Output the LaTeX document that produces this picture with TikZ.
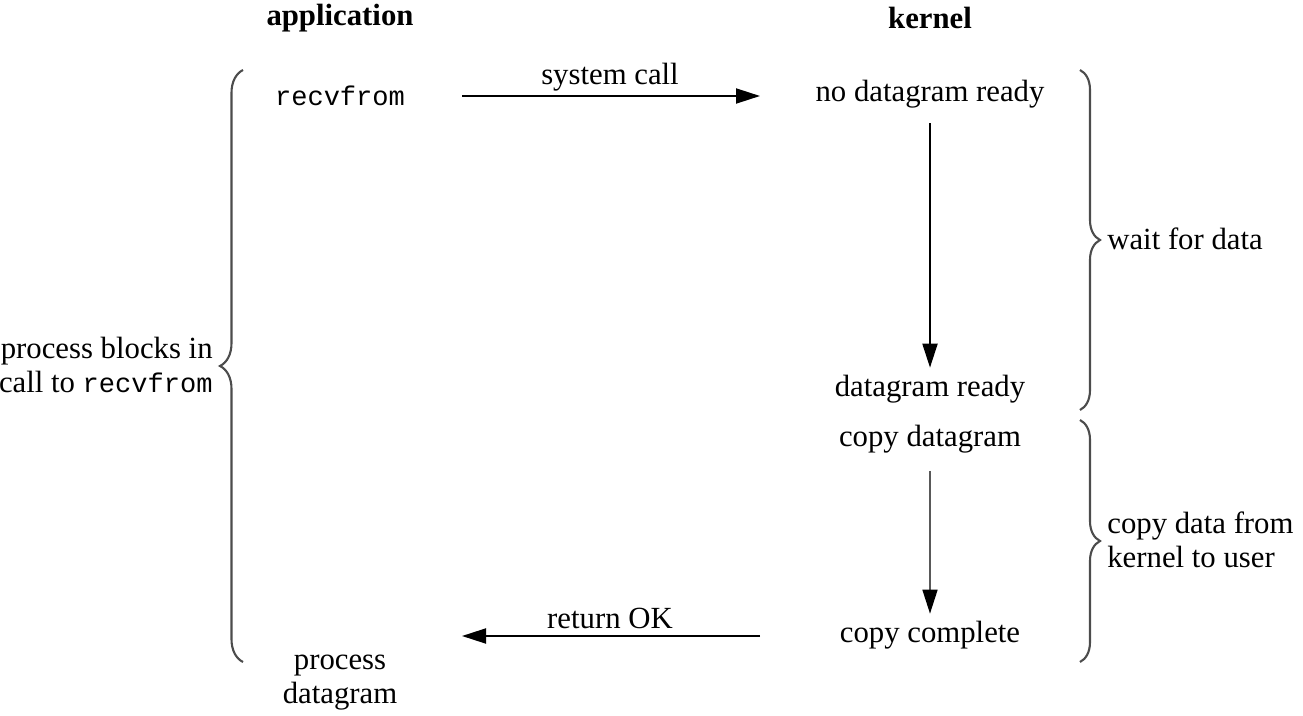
\documentclass[tikz,border=0pt]{standalone}
\usepackage{fontspec}
\setmainfont{Liberation Serif}
\setmonofont{Liberation Mono}
\usetikzlibrary{arrows.meta,decorations.pathreplacing}
\newcommand{\mymono}[1]{{\fontsize{15.4}{19.4}\selectfont\ttfamily #1}}
\begin{document}
\begin{tikzpicture}[
  txt/.style={inner sep=0pt,font=\fontsize{17.5}{19.4}\selectfont},
  hd/.style={txt,font=\fontsize{17.5}{19.4}\selectfont\bfseries},
  arr/.style={line width=1.1pt,-{Triangle[length=0.48cm,width=0.3cm]}},
  arrg/.style={line width=0.9pt,draw=black!65,-{Triangle[length=0.48cm,width=0.3cm,color=black]}},
  brc/.style={draw=black!70,line width=1.2pt,decorate,decoration={brace,amplitude=#1}}
]
\useasboundingbox (0,0) rectangle (26.06,-14.32);
\node[hd] (app) at (6.8,-0.36) {application};
\node[hd] (ker) at (18.6,-0.36) {kernel};
\node[txt] (recv) at (6.8,-1.92) {\mymono{recvfrom}};
\node[txt] (ndr) at (18.6,-1.88) {no datagram ready};
\node[txt] (dr) at (18.6,-7.78) {datagram ready};
\node[txt] (cd) at (18.6,-8.78) {copy datagram};
\node[txt] (cc) at (18.6,-12.7) {copy complete};
\node[txt,align=center] (pd) at (6.8,-13.66) {process\\datagram};
\node[txt] (sc) at (12.2,-1.54) {system call};
\node[txt] (ok) at (12.2,-12.36) {return OK};
\node[txt,align=right,anchor=east] (pb) at (4.26,-7.3) {process blocks in\\call to \mymono{recvfrom}};
\node[txt,anchor=west] (wd) at (22.14,-4.78) {wait for data};
\node[txt,align=left,anchor=west] (cdk) at (22.14,-10.8) {copy data from\\kernel to user};
\coordinate (lb1) at (4.86,-13.24);
\coordinate (lb2) at (4.86,-1.4);
\coordinate (rb1) at (21.6,-1.4);
\coordinate (rb2) at (21.6,-8.2);
\coordinate (rb3) at (21.6,-8.4);
\coordinate (rb4) at (21.6,-13.24);
\coordinate (sa) at (9.24,-1.92);
\coordinate (sb) at (15.2,-1.92);
\coordinate (ra) at (15.2,-12.72);
\coordinate (rb) at (9.24,-12.72);
\draw[brc=0.46cm] (lb1) -- (lb2);
\draw[brc=0.4cm] (rb1) -- (rb2);
\draw[brc=0.4cm] (rb3) -- (rb4);
\draw[arr] (sa) -- (sb);
\draw[arr] (ra) -- (rb);
\draw[arr,shorten <=0.3cm,shorten >=0.14cm] (ndr.south) -- (dr.north);
\draw[arrg,shorten <=0.35cm,shorten >=0.14cm] (cd.south) -- (cc.north);
\end{tikzpicture}
\end{document}
